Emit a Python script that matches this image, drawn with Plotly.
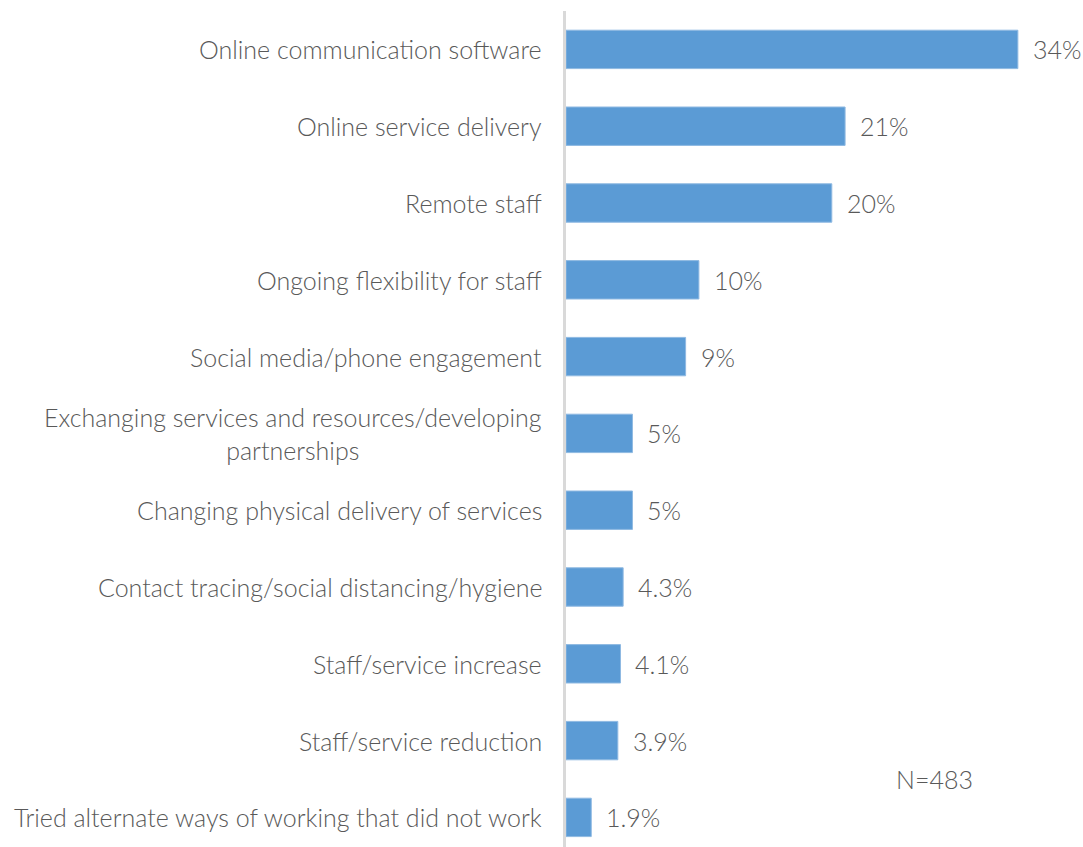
import plotly.graph_objects as go

categories = [
    "Online communication software",
    "Online service delivery",
    "Remote staff",
    "Ongoing flexibility for staff",
    "Social media/phone engagement",
    "Exchanging services and resources/developing<br>partnerships",
    "Changing physical delivery of services",
    "Contact tracing/social distancing/hygiene",
    "Staff/service increase",
    "Staff/service reduction",
    "Tried alternate ways of working that did not work",
]
values = [34, 21, 20, 10, 9, 5, 5, 4.3, 4.1, 3.9, 1.9]
value_labels = ["34%", "21%", "20%", "10%", "9%", "5%", "5%", "4.3%", "4.1%", "3.9%", "1.9%"]
note_text = "N=483"

TEXT = "#595959"
FONT = "Lato"
FSIZE = 25
WEIGHT = 300
BAR = "#5b9bd5"

W, H = 1083, 847
L, R, T, B = 566, 23, 11, 0
px_per_unit = 13.29
x_max = (W - L - R) / px_per_unit

fig = go.Figure(
    go.Bar(
        x=values,
        y=categories,
        orientation="h",
        width=0.5,
        marker=dict(color=BAR, line=dict(color="#8fb9e2", width=1)),
        hoverinfo="skip",
    )
)

label_font = dict(family=FONT, size=FSIZE, color=TEXT, weight=WEIGHT)

# category labels, right-aligned against the axis, multi-line text centred
for cat in categories:
    fig.add_annotation(
        x=0, y=cat, xref="x", yref="y",
        text=cat, showarrow=False,
        xanchor="right", yanchor="middle", align="center",
        xshift=-22,
        font=label_font,
    )

# value labels just past the end of each bar
for cat, v, lab in zip(categories, values, value_labels):
    fig.add_annotation(
        x=v, y=cat, xref="x", yref="y",
        text=lab, showarrow=False,
        xanchor="left", yanchor="middle",
        xshift=13,
        font=label_font,
    )

fig.add_annotation(
    x=(934 - L) / (W - L - R), y=1 - (779 - T) / (H - T - B),
    xref="paper", yref="paper",
    text=note_text, showarrow=False,
    xanchor="center", yanchor="middle",
    font=label_font,
)

fig.update_layout(
    width=W, height=H,
    margin=dict(l=L, r=R, t=T, b=B, pad=0),
    paper_bgcolor="white", plot_bgcolor="white",
    showlegend=False,
    font=dict(family=FONT, color=TEXT),
)
fig.update_xaxes(
    range=[0, x_max], visible=False, showgrid=False, zeroline=False,
)
fig.update_yaxes(
    type="category",
    range=[10 + (H - T - B) / 76.8 - 10.5, -0.5],
    showticklabels=False, showgrid=False, zeroline=False,
    showline=True, linecolor="#d9d9d9", linewidth=3, ticks="",
)

fig.write_html("out.html")
